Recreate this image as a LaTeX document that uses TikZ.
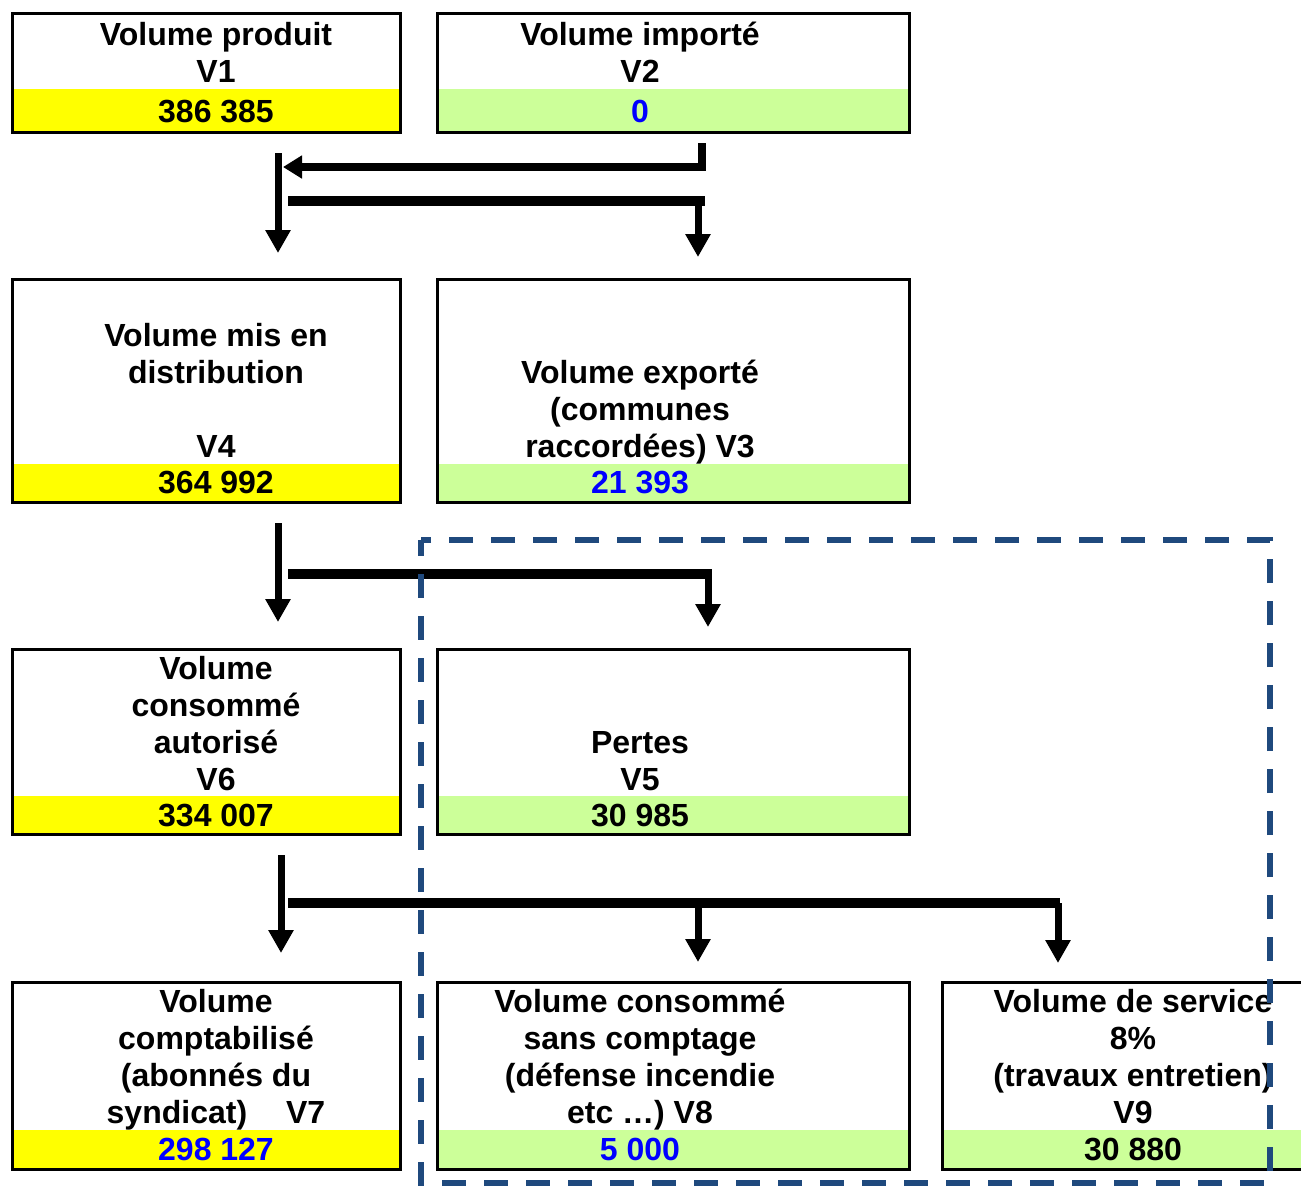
\documentclass[tikz,border=0pt]{standalone}
\usepackage{fontspec}
\setmainfont{Liberation Sans}
\usetikzlibrary{arrows.meta}
\definecolor{bandY}{HTML}{FFFF00}
\definecolor{bandG}{HTML}{CCFF99}
\definecolor{dashB}{HTML}{1F497D}
\definecolor{valB}{HTML}{0000FF}
\begin{document}
\begin{tikzpicture}[x=0.5pt,y=-0.5pt,
  box/.style={draw=black,line width=1.5pt,outer sep=0pt,inner sep=0pt,rectangle},
  lbl/.style={anchor=base,align=center,inner sep=0pt,font=\bfseries\fontsize{16pt}{18.5pt}\selectfont},
  downarrow/.style={line width=3.5pt,-{Triangle[length=11.5pt,width=12pt]}},
  leftarrow/.style={line width=4pt,miter limit=10,-{Triangle[length=9.5pt,width=11pt]}},
  busbar/.style={line width=5pt},
  dashframe/.style={draw=dashB,line width=3pt,dash pattern=on 12pt off 9pt,dash phase=4pt}]
\useasboundingbox (0,0) rectangle (1301,1185);
\clip (0,0) rectangle (1301,1185);
\fill[white] (0,0) rectangle (1301,1185);

% boxes
\node[box,minimum width=194pt,minimum height=59.5pt] (v1) at (206,72.5) {};
\node[box,minimum width=236pt,minimum height=59.5pt] (v2) at (673,72.5) {};
\node[box,minimum width=194pt,minimum height=111.5pt] (v4) at (206,390.5) {};
\node[box,minimum width=236pt,minimum height=111.5pt] (v3) at (673,390.5) {};
\node[box,minimum width=194pt,minimum height=92.5pt] (v6) at (206,741.5) {};
\node[box,minimum width=236pt,minimum height=92.5pt] (v5) at (673,741.5) {};
\node[box,minimum width=194pt,minimum height=93.5pt] (v7) at (206,1075.5) {};
\node[box,minimum width=236pt,minimum height=93.5pt] (v8) at (673,1075.5) {};
\node[box,minimum width=199pt,minimum height=93.5pt] (v9) at (1141.5,1075.5) {};

% bands
\fill[bandY] ([shift={(0.75pt,0.75pt)}]v1.south west) rectangle ([shift={(-0.75pt,21.5pt)}]v1.south east);
\fill[bandG] ([shift={(0.75pt,0.75pt)}]v2.south west) rectangle ([shift={(-0.75pt,21.5pt)}]v2.south east);
\fill[bandY] ([shift={(0.75pt,0.75pt)}]v4.south west) rectangle ([shift={(-0.75pt,19pt)}]v4.south east);
\fill[bandG] ([shift={(0.75pt,0.75pt)}]v3.south west) rectangle ([shift={(-0.75pt,19pt)}]v3.south east);
\fill[bandY] ([shift={(0.75pt,0.75pt)}]v6.south west) rectangle ([shift={(-0.75pt,19pt)}]v6.south east);
\fill[bandG] ([shift={(0.75pt,0.75pt)}]v5.south west) rectangle ([shift={(-0.75pt,19pt)}]v5.south east);
\fill[bandY] ([shift={(0.75pt,0.75pt)}]v7.south west) rectangle ([shift={(-0.75pt,19.5pt)}]v7.south east);
\fill[bandG] ([shift={(0.75pt,0.75pt)}]v8.south west) rectangle ([shift={(-0.75pt,19.5pt)}]v8.south east);
\fill[bandG] ([shift={(0.75pt,0.75pt)}]v9.south west) rectangle ([shift={(-0.75pt,19.5pt)}]v9.south east);

% labels (anchor = baseline of the last line)
\node[lbl] (t1) at (216,82) {Volume produit\\V1};
\node[lbl] (n1) at (216,122) {386 385};
\node[lbl] (t2) at (640,82) {Volume importé\\V2};
\node[lbl,text=valB] (n2) at (640,122) {0};
\node[lbl] (t4) at (216,457) {Volume mis en\\distribution\\[18.5pt]V4};
\node[lbl] (n4) at (216,493) {364 992};
\node[lbl] (t3) at (640,457) {Volume exporté\\(communes\\raccordées) V3};
\node[lbl,text=valB] (n3) at (640,493) {21 393};
\node[lbl] (t6) at (216,790) {Volume\\consommé\\autorisé\\V6};
\node[lbl] (n6) at (216,826) {334 007};
\node[lbl] (t5) at (640,790) {Pertes\\V5};
\node[lbl] (n5) at (640,826) {30 985};
\node[lbl] (t7) at (216,1123) {Volume\\comptabilisé\\(abonnés du\\syndicat)\hspace{19.5pt}V7};
\node[lbl,text=valB] (n7) at (216,1160) {298 127};
\node[lbl] (t8) at (640,1123) {Volume consommé\\sans comptage\\(défense incendie\\etc …) V8};
\node[lbl,text=valB] (n8) at (640,1160) {5 000};
\node[lbl] (t9) at (1133,1123) {Volume de service\\8\%\\(travaux entretien)\\V9};
\node[lbl] (n9) at (1133,1160) {30 880};

% connector points
\coordinate (a1s) at (278,153);
\coordinate (a1e) at (278,253);
\coordinate (b1s) at (702,143);
\coordinate (b1c) at (702,167);
\coordinate (b1e) at (283,167);
\coordinate (c1s) at (288,201);
\coordinate (c1e) at (705,201);
\coordinate (d1s) at (698,201);
\coordinate (d1e) at (698,257);

\coordinate (a2s) at (278,523);
\coordinate (a2e) at (278,622);
\coordinate (c2s) at (288,574);
\coordinate (c2e) at (712,574);
\coordinate (d2s) at (708,574);
\coordinate (d2e) at (708,627);

\coordinate (a3s) at (281,855);
\coordinate (a3e) at (281,953);
\coordinate (c3s) at (288,903);
\coordinate (c3e) at (1060,903);
\coordinate (d3s) at (698,903);
\coordinate (d3e) at (698,962);
\coordinate (e3s) at (1058,903);
\coordinate (e3e) at (1058,963);

% connectors level 1
\draw[downarrow] (a1s) -- (a1e);
\draw[leftarrow] (b1s) -- (b1c) -- (b1e);
\draw[busbar] (c1s) -- (c1e);
\draw[downarrow] (d1s) -- (d1e);
% level 2
\draw[downarrow] (a2s) -- (a2e);
\draw[busbar] (c2s) -- (c2e);
\draw[downarrow] (d2s) -- (d2e);
% level 3
\draw[downarrow] (a3s) -- (a3e);
\draw[busbar] (c3s) -- (c3e);
\draw[downarrow] (d3s) -- (d3e);
\draw[downarrow] (e3s) -- (e3e);

% dashed frame
\coordinate (f1) at (421,540);
\coordinate (f2) at (1270,1183);
\draw[dashframe] (f1) rectangle (f2);
\end{tikzpicture}
\end{document}
